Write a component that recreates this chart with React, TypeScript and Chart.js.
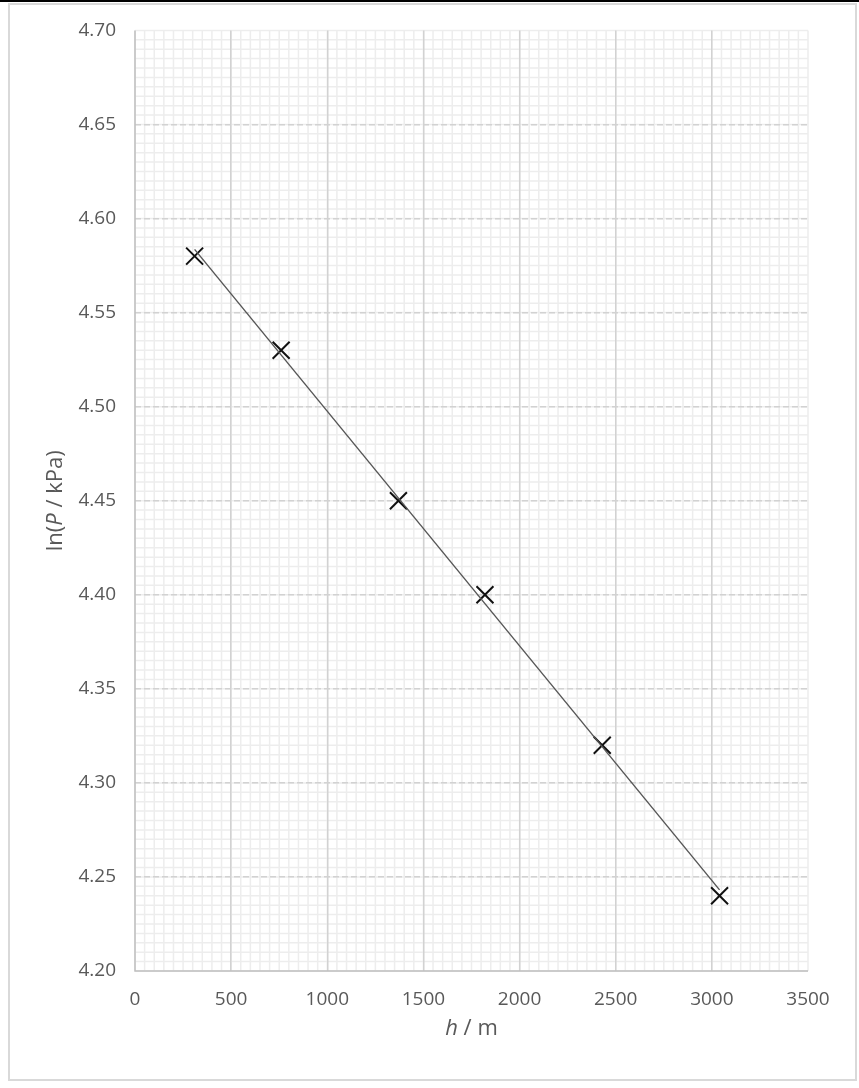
import React, { useEffect, useRef } from 'react';
import { Chart, registerables } from 'chart.js';

Chart.register(...registerables);

// ---- data ----
const H_VALUES = [310, 760, 1370, 1820, 2430, 3040];
const LN_P_VALUES = [4.58, 4.53, 4.45, 4.4, 4.32, 4.24];

// ---- axes ----
const X_MIN = 0;
const X_MAX = 3500;
const X_MAJOR = 500;
const X_MINOR = 50;
const Y_MIN = 4.2;
const Y_MAX = 4.7;
const Y_MAJOR = 0.05;
const Y_MINOR = 0.005;

const X_TITLE = [
  { text: 'h', italic: true },
  { text: ' / m', italic: false },
];
const Y_TITLE = [
  { text: 'ln(', italic: false },
  { text: 'P', italic: true },
  { text: ' / kPa)', italic: false },
];

const W = 859;
const H = 1088;
const FONT = '"Open Sans", "Liberation Sans", sans-serif';
const TEXT_COLOR = '#595959';

function linearFit(xs: number[], ys: number[]) {
  const n = xs.length;
  const mx = xs.reduce((a, b) => a + b, 0) / n;
  const my = ys.reduce((a, b) => a + b, 0) / n;
  let sxy = 0;
  let sxx = 0;
  for (let i = 0; i < n; i++) {
    sxy += (xs[i] - mx) * (ys[i] - my);
    sxx += (xs[i] - mx) * (xs[i] - mx);
  }
  const slope = sxy / sxx;
  return { slope, intercept: my - slope * mx };
}

function drawRichText(ctx: CanvasRenderingContext2D, parts: { text: string; italic: boolean }[], size: number, cx: number, cy: number, rotate: boolean) {
  ctx.save();
  ctx.translate(cx, cy);
  if (rotate) ctx.rotate(-Math.PI / 2);
  ctx.fillStyle = TEXT_COLOR;
  ctx.textBaseline = 'middle';
  ctx.textAlign = 'left';
  const fonts = parts.map((p) => `${p.italic ? 'italic ' : ''}${size}px ${FONT}`);
  let total = 0;
  const widths = parts.map((p, i) => {
    ctx.font = fonts[i];
    const w = ctx.measureText(p.text).width;
    total += w;
    return w;
  });
  let x = -total / 2;
  parts.forEach((p, i) => {
    ctx.font = fonts[i];
    ctx.fillText(p.text, x, 0);
    x += widths[i];
  });
  ctx.restore();
}

const decorPlugin = {
  id: 'decor',
  beforeDraw(chart: any) {
    const { ctx, chartArea, scales } = chart;
    const { left, right, top, bottom } = chartArea;
    const xs = scales.x;
    const ys = scales.y;
    ctx.save();
    ctx.fillStyle = '#ffffff';
    ctx.fillRect(0, 0, W, H);
    // outer frame
    ctx.strokeStyle = '#d9d9d9';
    ctx.lineWidth = 2;
    ctx.strokeRect(9, 4, 847, 1076);
    ctx.fillStyle = '#000000';
    ctx.fillRect(0, 0, W, 2);
    // minor grid
    ctx.strokeStyle = '#ededed';
    ctx.lineWidth = 1.5;
    const nx = Math.round((X_MAX - X_MIN) / X_MINOR);
    for (let i = 0; i <= nx; i++) {
      const px = xs.getPixelForValue(X_MIN + i * X_MINOR);
      ctx.beginPath();
      ctx.moveTo(px, top);
      ctx.lineTo(px, bottom);
      ctx.stroke();
    }
    const ny = Math.round((Y_MAX - Y_MIN) / Y_MINOR);
    for (let i = 0; i <= ny; i++) {
      const py = ys.getPixelForValue(Y_MIN + i * Y_MINOR);
      ctx.beginPath();
      ctx.moveTo(left, py);
      ctx.lineTo(right, py);
      ctx.stroke();
    }
    ctx.restore();
  },
  beforeDatasetsDraw(chart: any) {
    const { ctx, chartArea } = chart;
    const { left, right, top, bottom } = chartArea;
    ctx.save();
    ctx.strokeStyle = '#bfbfbf';
    ctx.lineWidth = 1.5;
    ctx.beginPath();
    ctx.moveTo(left, top);
    ctx.lineTo(left, bottom);
    ctx.lineTo(right, bottom);
    ctx.stroke();
    ctx.restore();
  },
  afterDraw(chart: any) {
    const { ctx, chartArea } = chart;
    const { left, right, top, bottom } = chartArea;
    drawRichText(ctx, X_TITLE, 22, (left + right) / 2, 1029, false);
    drawRichText(ctx, Y_TITLE, 22, 56, (top + bottom) / 2, true);
  },
};

export default function App() {
  const ref = useRef<HTMLCanvasElement | null>(null);

  useEffect(() => {
    if (!ref.current) return;
    const fit = linearFit(H_VALUES, LN_P_VALUES);
    const xFirst = Math.min(...H_VALUES);
    const xLast = Math.max(...H_VALUES);
    const trend = [
      { x: xFirst, y: fit.intercept + fit.slope * xFirst },
      { x: xLast, y: fit.intercept + fit.slope * xLast },
    ];
    const points = H_VALUES.map((h, i) => ({ x: h, y: LN_P_VALUES[i] }));

    const chart = new Chart(ref.current, {
      type: 'scatter',
      data: {
        datasets: [
          {
            label: 'data',
            data: points,
            pointStyle: 'crossRot',
            pointRadius: 12,
            pointHoverRadius: 12,
            pointBorderWidth: 2,
            borderColor: '#111111',
            backgroundColor: '#111111',
            showLine: false,
            order: 2,
          },
          {
            label: 'trend',
            data: trend,
            showLine: true,
            pointRadius: 0,
            borderColor: '#555555',
            borderWidth: 1.4,
            order: 1,
          },
        ],
      },
      options: {
        responsive: false,
        animation: false,
        devicePixelRatio: 1,
        layout: { padding: { left: 0, top: 30, right: 51, bottom: 0 } },
        plugins: {
          legend: { display: false },
          tooltip: { enabled: false },
          title: { display: false },
        },
        scales: {
          x: {
            type: 'linear',
            min: X_MIN,
            max: X_MAX,
            afterFit(scale: any) {
              scale.height = 117;
            },
            border: { display: false },
            grid: {
              drawTicks: false,
              lineWidth: 1.5,
              color: (c: any) => (c.tick && (c.tick.value >= X_MAX || c.tick.value <= X_MIN) ? 'rgba(0,0,0,0)' : '#d2d2d2'),
            },
            ticks: {
              stepSize: X_MAJOR,
              padding: 17,
              autoSkip: false,
              maxRotation: 0,
              color: TEXT_COLOR,
              font: { family: FONT, size: 19 },
              callback: (v: any) => String(v),
            },
          },
          y: {
            type: 'linear',
            min: Y_MIN,
            max: Y_MAX,
            afterFit(scale: any) {
              scale.width = 135;
            },
            border: { display: false, dash: [6, 3] },
            grid: {
              drawTicks: false,
              lineWidth: 1.5,
              color: (c: any) => (c.tick && (c.tick.value >= Y_MAX - 1e-9 || c.tick.value <= Y_MIN + 1e-9) ? 'rgba(0,0,0,0)' : '#d2d2d2'),
            },
            ticks: {
              stepSize: Y_MAJOR,
              padding: 19,
              autoSkip: false,
              color: TEXT_COLOR,
              font: { family: FONT, size: 19 },
              callback: (v: any) => Number(v).toFixed(2),
            },
          },
        },
      },
      plugins: [decorPlugin],
    });
    return () => chart.destroy();
  }, []);

  return (
    <div style={{ position: 'fixed', left: 0, top: 0, width: W, height: H, background: '#fff' }}>
      <canvas ref={ref} width={W} height={H} style={{ display: 'block', width: W, height: H }} />
    </div>
  );
}
